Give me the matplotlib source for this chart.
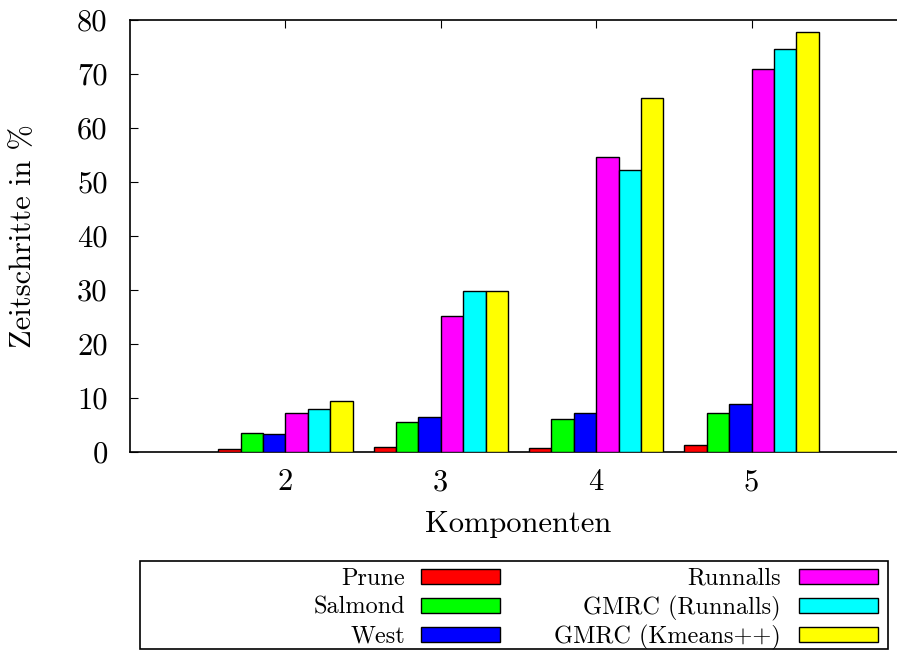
import numpy as np
import matplotlib
matplotlib.use("Agg")
import matplotlib.pyplot as plt
from matplotlib.patches import Rectangle

plt.rcParams['font.family'] = ['cmr10', 'DejaVu Serif']
plt.rcParams['mathtext.fontset'] = 'cm'
plt.rcParams['axes.formatter.use_mathtext'] = True

komponenten = [2, 3, 4, 5]
series = ['Prune', 'Salmond', 'West', 'Runnalls', 'GMRC (Runnalls)', 'GMRC (Kmeans++)']
colors = ['#ff0000', '#00ff00', '#0000ff', '#ff00ff', '#00ffff', '#ffff00']
values = {
    'Prune':           [0.5, 0.9, 0.8, 1.3],
    'Salmond':         [3.6, 5.5, 6.2, 7.2],
    'West':            [3.3, 6.4, 7.2, 8.8],
    'Runnalls':        [7.2, 25.1, 54.7, 70.9],
    'GMRC (Runnalls)': [7.9, 29.9, 52.2, 74.7],
    'GMRC (Kmeans++)': [9.5, 29.8, 65.5, 77.8],
}

W, H = 897, 650
fig = plt.figure(figsize=(W / 100, H / 100), dpi=100)

# axes box in pixels: left 130, top 20, bottom 452, right runs off the figure
ax = fig.add_axes([130 / W, 1 - 452 / H, 777 / W, 432 / H])

bw = 0.144
x = np.array(komponenten, dtype=float)
for i, name in enumerate(series):
    ax.bar(x + (i - 2.5) * bw, values[name], width=bw, color=colors[i],
           edgecolor='black', linewidth=1.0, zorder=3)

ax.set_xlim(1, 6)
ax.set_ylim(0, 80)
ax.set_xticks(komponenten)
ax.set_xticklabels([str(k) for k in komponenten])
ax.set_yticks(np.arange(0, 81, 10))
ax.set_yticklabels([str(v) for v in range(0, 81, 10)])
ax.tick_params(axis='both', direction='in', labelsize=22, length=6, width=0.8)
ax.tick_params(axis='x', top=True, pad=12)
ax.tick_params(axis='y', right=False, pad=16)
for s in ax.spines.values():
    s.set_linewidth(1.2)

ax.set_xlabel('Komponenten', fontsize=22)
ax.set_ylabel('Zeitschritte in %', fontsize=22)
ax.xaxis.set_label_coords(0.5, -0.135)
ax.yaxis.set_label_coords(-0.12, 0.5)

# legend drawn by hand: two columns, text right-aligned, swatch on the right
fig.patches.append(Rectangle((140 / W, 1 - 649 / H), 748 / W, 88 / H,
                             transform=fig.transFigure, fill=False,
                             edgecolor='black', linewidth=1.2))
rows = [576, 605, 634]
cols = [(405, 421), (781, 799)]
for i, name in enumerate(series):
    tx, sx = cols[i // 3]
    ry = rows[i % 3]
    fig.text(tx / W, 1 - ry / H, name, ha='right', va='center_baseline', fontsize=17.5)
    fig.patches.append(Rectangle((sx / W, 1 - (ry + 7.5) / H), 79 / W, 15 / H,
                                 transform=fig.transFigure, facecolor=colors[i],
                                 edgecolor='black', linewidth=1.0))

fig.savefig('out.png', dpi=100)
